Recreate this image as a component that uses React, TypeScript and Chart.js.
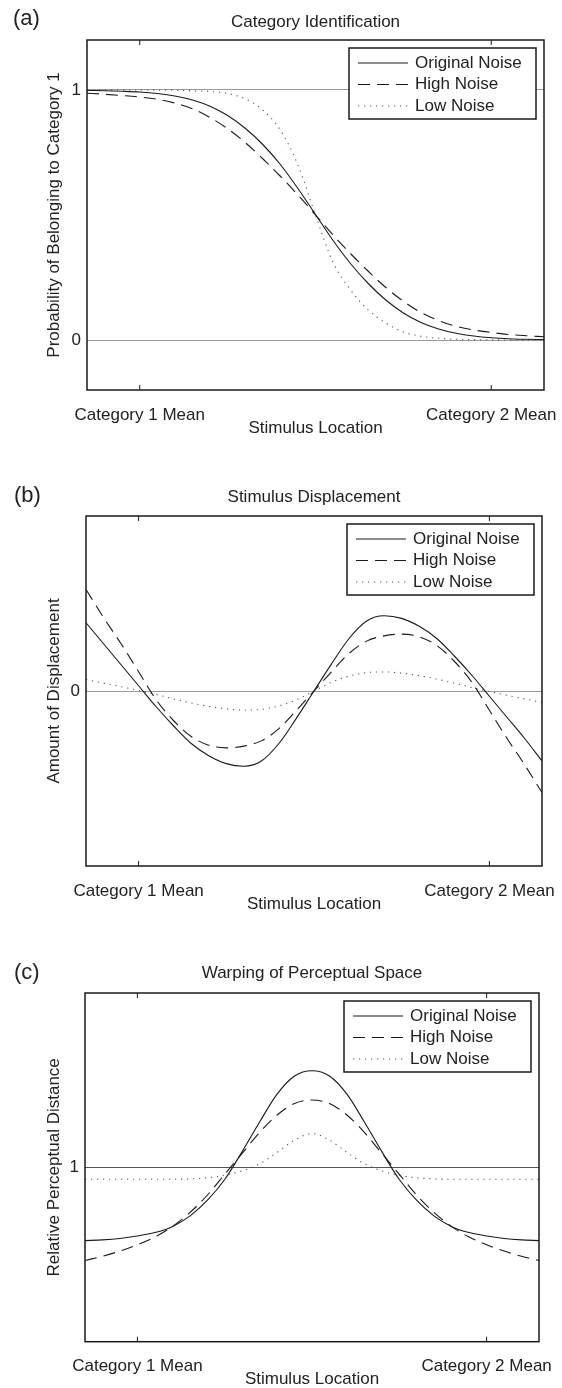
import React, { useEffect, useRef } from "react";
import { Chart, registerables } from "chart.js";

Chart.register(...registerables);
Chart.defaults.font.family = '"Liberation Sans", Arial, Helvetica, sans-serif';

// ---------- data ----------
const stimulus = [-0.15, -0.1, -0.05, 0, 0.05, 0.1, 0.15, 0.2, 0.25, 0.3, 0.35, 0.4, 0.45, 0.5, 0.55, 0.6, 0.65, 0.7, 0.75, 0.8, 0.85, 0.9, 0.95, 1, 1.05, 1.1, 1.15];
const xTickValues = [0, 1];
const xTickLabels = ["Category 1 Mean", "Category 2 Mean"];
const seriesNames = ["Original Noise", "High Noise", "Low Noise"];

// (a) Category Identification
const identOriginal = [0.998, 0.997, 0.995, 0.992, 0.986, 0.976, 0.96, 0.935, 0.898, 0.847, 0.782, 0.702, 0.606, 0.502, 0.398, 0.305, 0.226, 0.16, 0.108, 0.07, 0.044, 0.027, 0.016, 0.009, 0.005, 0.003, 0.002];
const identHigh = [0.987, 0.983, 0.978, 0.972, 0.963, 0.948, 0.925, 0.89, 0.845, 0.79, 0.725, 0.655, 0.58, 0.5, 0.42, 0.345, 0.275, 0.21, 0.155, 0.11, 0.078, 0.055, 0.04, 0.03, 0.022, 0.017, 0.013];
const identLow = [1, 1, 1, 1, 0.9995, 0.999, 0.997, 0.994, 0.986, 0.965, 0.92, 0.84, 0.7, 0.5, 0.31, 0.2, 0.12, 0.068, 0.032, 0.015, 0.007, 0.003, 0.0015, 0.001, 0, 0, 0];
const identTicks = [0, 1];

// (b) Stimulus Displacement
const dispOriginal = [0.39, 0.27, 0.15, 0.03, -0.09, -0.2, -0.3, -0.37, -0.415, -0.43, -0.4, -0.3, -0.155, 0, 0.155, 0.3, 0.4, 0.43, 0.415, 0.37, 0.3, 0.2, 0.09, -0.03, -0.15, -0.27, -0.4];
const dispHigh = [0.58, 0.42, 0.27, 0.11, -0.05, -0.17, -0.26, -0.31, -0.325, -0.315, -0.285, -0.215, -0.11, 0, 0.11, 0.215, 0.285, 0.315, 0.325, 0.31, 0.26, 0.17, 0.05, -0.11, -0.27, -0.42, -0.58];
const dispLow = [0.065, 0.045, 0.025, 0.003, -0.02, -0.045, -0.068, -0.088, -0.102, -0.109, -0.105, -0.085, -0.05, 0, 0.05, 0.085, 0.105, 0.109, 0.102, 0.088, 0.068, 0.045, 0.02, -0.003, -0.025, -0.045, -0.065];
const dispTicks = [0];

// (c) Warping of Perceptual Space
const warpOriginal = [0.79, 0.792, 0.796, 0.803, 0.813, 0.83, 0.86, 0.905, 0.965, 1.045, 1.13, 1.21, 1.262, 1.277, 1.262, 1.21, 1.13, 1.045, 0.965, 0.905, 0.86, 0.83, 0.813, 0.803, 0.796, 0.792, 0.79];
const warpHigh = [0.733, 0.745, 0.76, 0.778, 0.8, 0.83, 0.87, 0.92, 0.98, 1.04, 1.1, 1.15, 1.183, 1.193, 1.183, 1.15, 1.1, 1.04, 0.98, 0.92, 0.87, 0.83, 0.8, 0.778, 0.76, 0.745, 0.733];
const warpLow = [0.966, 0.966, 0.966, 0.966, 0.966, 0.966, 0.967, 0.97, 0.977, 0.99, 1.01, 1.043, 1.078, 1.097, 1.078, 1.043, 1.01, 0.99, 0.977, 0.97, 0.967, 0.966, 0.966, 0.966, 0.966, 0.966, 0.966];
const warpTicks = [1];

// ---------- styles ----------
const TEXT = "#222";
const FONT = 17;
const LINE_STYLES = [
  { color: "#1a1a1a", dash: [] as number[], width: 1.1 },
  { color: "#1a1a1a", dash: [12, 7], width: 1.1 },
  { color: "#555", dash: [1.2, 4.8], width: 1.1 },
];

type PanelCfg = {
  letter: string;
  top: number;
  height: number;
  areaTop: number;
  areaBottom: number;
  areaLeft: number;
  areaRight: number;
  titleY: number;
  title: string;
  yTitle: string;
  yMin: number;
  yMax: number;
  yTicks: number[];
  gridColor: string;
  series: number[][];
};

const panels: PanelCfg[] = [
  {
    letter: "(a)", top: 0, height: 476, areaTop: 40, areaBottom: 390, areaLeft: 87, areaRight: 544, titleY: 22,
    title: "Category Identification", yTitle: "Probability of Belonging to Category 1",
    yMin: -0.2, yMax: 1.2, yTicks: identTicks, gridColor: "#9a9a9a",
    series: [identOriginal, identHigh, identLow],
  },
  {
    letter: "(b)", top: 476, height: 477, areaTop: 40, areaBottom: 390, areaLeft: 86, areaRight: 542, titleY: 21,
    title: "Stimulus Displacement", yTitle: "Amount of Displacement",
    yMin: -1, yMax: 1, yTicks: dispTicks, gridColor: "#9a9a9a",
    series: [dispOriginal, dispHigh, dispLow],
  },
  {
    letter: "(c)", top: 953, height: 440, areaTop: 40, areaBottom: 388.7, areaLeft: 85, areaRight: 539, titleY: 20,
    title: "Warping of Perceptual Space", yTitle: "Relative Perceptual Distance",
    yMin: 0.5, yMax: 1.5, yTicks: warpTicks, gridColor: "#555",
    series: [warpOriginal, warpHigh, warpLow],
  },
];

const framePlugin = {
  id: "frame",
  afterDatasetsDraw(chart: any) {
    const { ctx, chartArea: a } = chart;
    const xs = chart.scales.x;
    ctx.save();
    ctx.strokeStyle = "#1a1a1a";
    ctx.lineWidth = 1.5;
    ctx.strokeRect(a.left, a.top, a.right - a.left, a.bottom - a.top);
    ctx.lineWidth = 1;
    xs.ticks.forEach((t: any) => {
      const px = xs.getPixelForValue(t.value);
      ctx.beginPath();
      ctx.moveTo(px, a.bottom);
      ctx.lineTo(px, a.bottom - 5);
      ctx.moveTo(px, a.top);
      ctx.lineTo(px, a.top + 5);
      ctx.stroke();
    });
    ctx.restore();
  },
};

const boxLegendPlugin = {
  id: "boxLegend",
  afterDatasetsDraw(chart: any) {
    const { ctx, chartArea } = chart;
    const w = 187;
    const h = 71;
    const right = chartArea.right - 8;
    const top = chartArea.top + 8;
    const left = right - w;
    ctx.save();
    ctx.fillStyle = "#fff";
    ctx.fillRect(left, top, w, h);
    ctx.strokeStyle = "#1a1a1a";
    ctx.lineWidth = 1.5;
    ctx.strokeRect(left, top, w, h);
    ctx.font = `${FONT}px "Liberation Sans", Arial, sans-serif`;
    ctx.textBaseline = "middle";
    chart.data.datasets.forEach((ds: any, i: number) => {
      const y = top + 15 + i * 21.5;
      ctx.beginPath();
      ctx.setLineDash(ds.borderDash || []);
      ctx.strokeStyle = ds.borderColor;
      ctx.lineWidth = ds.borderWidth;
      ctx.moveTo(left + 9, y);
      ctx.lineTo(left + 59, y);
      ctx.stroke();
      ctx.setLineDash([]);
      ctx.fillStyle = TEXT;
      ctx.fillText(ds.label, left + 66, y);
    });
    ctx.restore();
  },
};

function Panel({ cfg }: { cfg: PanelCfg }) {
  const ref = useRef<HTMLCanvasElement>(null);
  useEffect(() => {
    if (!ref.current) return;
    const lh = FONT * 1.2;
    const chart = new Chart(ref.current, {
      type: "line",
      data: {
        datasets: cfg.series.map((s, i) => ({
          label: seriesNames[i],
          data: stimulus.map((x, j) => ({ x, y: s[j] })),
          borderColor: LINE_STYLES[i].color,
          borderDash: LINE_STYLES[i].dash,
          borderWidth: LINE_STYLES[i].width,
          pointRadius: 0,
          fill: false,
          cubicInterpolationMode: "monotone",
          xAxisID: "x",
          yAxisID: "y",
        })),
      },
      options: {
        animation: false,
        responsive: false,
        devicePixelRatio: 1,
        layout: { autoPadding: false, padding: { left: 0, top: 0, bottom: 0, right: 562 - cfg.areaRight } },
        plugins: { legend: { display: false }, tooltip: { enabled: false } },
        scales: {
          x: {
            type: "linear",
            position: "bottom",
            min: -0.15,
            max: 1.15,
            afterBuildTicks: (s: any) => {
              s.ticks = xTickValues.map((v) => ({ value: v }));
            },
            afterFit: (s: any) => {
              s.height = cfg.height - cfg.areaBottom;
              s.paddingLeft = 0;
              s.paddingRight = 0;
            },
            grid: { display: false },
            border: { display: false },
            ticks: {
              autoSkip: false,
              maxRotation: 0,
              minRotation: 0,
              padding: 17 - lh / 2,
              color: TEXT,
              font: { size: FONT },
              callback: (v: any) => xTickLabels[xTickValues.indexOf(Number(v))] ?? "",
            },
            title: {
              display: true,
              text: "Stimulus Location",
              color: TEXT,
              font: { size: FONT },
              padding: { top: 0, bottom: cfg.height - cfg.areaBottom - 38 - lh / 2 },
            },
          },
          xTop: {
            type: "linear",
            position: "top",
            min: -0.15,
            max: 1.15,
            afterFit: (s: any) => {
              s.height = cfg.areaTop;
            },
            grid: { display: false },
            border: { display: false },
            ticks: { display: false },
            title: {
              display: true,
              text: cfg.title,
              color: TEXT,
              font: { size: FONT },
              padding: { top: cfg.titleY - lh / 2, bottom: 0 },
            },
          },
          y: {
            type: "linear",
            position: "left",
            min: cfg.yMin,
            max: cfg.yMax,
            afterBuildTicks: (s: any) => {
              s.ticks = cfg.yTicks.map((v) => ({ value: v }));
            },
            afterFit: (s: any) => {
              s.width = cfg.areaLeft;
              s.paddingTop = 0;
              s.paddingBottom = 0;
            },
            grid: { display: true, color: cfg.gridColor, lineWidth: 1, drawTicks: false },
            border: { display: false },
            ticks: {
              padding: 6,
              color: TEXT,
              font: { size: FONT },
              callback: (v: any) => String(v),
            },
            title: {
              display: true,
              text: cfg.yTitle,
              color: TEXT,
              font: { size: FONT },
              padding: { top: 54 - lh / 2, bottom: 0 },
            },
          },
        },
      } as any,
      plugins: [framePlugin, boxLegendPlugin],
    });
    return () => chart.destroy();
  }, [cfg]);

  return (
    <canvas
      ref={ref}
      width={562}
      height={cfg.height}
      style={{ position: "absolute", left: 0, top: cfg.top, width: 562, height: cfg.height }}
    />
  );
}

const letterPos = [
  { left: 13, top: 7 },
  { left: 14, top: 484 },
  { left: 14, top: 961 },
];

export default function App() {
  return (
    <div
      style={{
        position: "absolute",
        left: 0,
        top: 0,
        width: 562,
        height: 1388,
        overflow: "hidden",
        background: "#fff",
      }}
    >
      {panels.map((p) => (
        <Panel key={p.letter} cfg={p} />
      ))}
      {panels.map((p, i) => (
        <div
          key={"l" + p.letter}
          style={{
            position: "absolute",
            left: letterPos[i].left,
            top: letterPos[i].top,
            fontFamily: '"Liberation Sans", Arial, sans-serif',
            fontSize: 22,
            lineHeight: "22px",
            color: TEXT,
          }}
        >
          {p.letter}
        </div>
      ))}
    </div>
  );
}
